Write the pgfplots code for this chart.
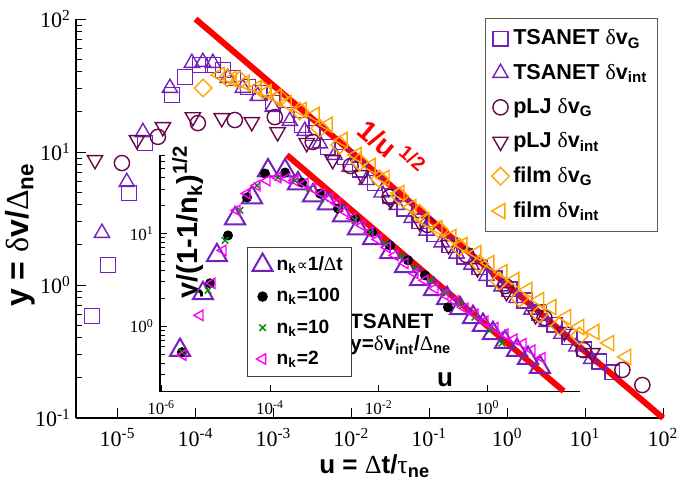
\documentclass[border=0pt]{standalone}
\usepackage{fontspec}
\setmainfont{Liberation Sans}
\newfontfamily\serif{Liberation Serif}
\newfontfamily\dejavu{DejaVu Sans}
\usepackage{pgfplots}
\pgfplotsset{compat=1.18}
\definecolor{cviolet}{RGB}{114,33,188}
\definecolor{cmaroon}{RGB}{103,7,72}
\definecolor{corange}{RGB}{255,165,0}
\definecolor{cgreen}{RGB}{0,139,0}
\definecolor{cmagenta}{RGB}{255,0,255}
\newcommand{\tl}[1]{10\textsuperscript{#1}}
\newcommand{\gk}[1]{{\serif\mdseries #1}}
\newcommand{\legfont}{\bfseries\fontsize{10.8}{12}\selectfont}
\newcommand{\ilegfont}{\bfseries\fontsize{9.6}{11}\selectfont}
\pgfplotsset{mylegimg/.style={legend image code/.code={\draw[##1] plot coordinates {(0.2cm,0cm)};}}}
\begin{document}
\begin{tikzpicture}
\useasboundingbox (0,0) rectangle (350pt,241pt);
% ---------------- main axis ----------------
\begin{axis}[
  at={(38pt,32pt)}, anchor=south west,
  scale only axis, width=293.5pt, height=199.5pt,
  xmode=log, ymode=log,
  xmin=2.92e-6, xmax=100, ymin=0.1, ymax=100,
  clip=false,
  axis x line*=bottom, axis y line*=left,
  axis line style={-, line width=0.6pt},
  tick align=inside,
  major tick length=5pt, minor tick length=3pt,
  every tick/.style={black, line width=0.5pt},
  xtick={1e-5,1e-4,1e-3,1e-2,1e-1,1,10,100},
  xticklabels={\tl{-5},\tl{-4},\tl{-3},\tl{-2},\tl{-1},\tl{0},\tl{1},\tl{2}},
  xminorticks=false,
  ytick={0.1,1,10,100},
  yticklabels={\tl{-1},\tl{0},\tl{1},\tl{2}},
  yminorticks=true,
  minor ytick={0.2,0.3,0.4,0.5,0.6,0.7,0.8,0.9,2,3,4,5,6,7,8,9,20,30,40,50,60,70,80,90},
  xticklabel style={font=\serif\fontsize{11}{12}\selectfont, yshift=-1.5pt},
  yticklabel style={font=\serif\fontsize{11}{12}\selectfont, xshift=1pt},
  mylegimg,
  legend cell align=left,
  legend style={at={(0.6968,1.0025)}, anchor=north west, draw=black!65, line width=0.7pt,
    fill=white, font=\legfont, inner xsep=3pt, inner ysep=3.5pt, row sep=4.1pt, column sep=0pt},
]
\addplot[red, line width=3pt, forget plot] coordinates {(1e-4,100) (100,0.1)};
% TSANET dvG
\addplot[only marks, cviolet, mark=square, mark size=3.7pt, mark options={line width=0.7pt}] coordinates {
(4.69e-6,0.585) (7.51e-6,1.41) (1.40e-5,4.92) (2.24e-5,11.7) (4.97e-5,26.9) (7.30e-5,36.6)
(1.135e-4,45.1) (1.67e-4,45.1) (2.24e-4,41.4) (3.01e-4,36.0) (4.69e-4,30.8) (6.67e-4,27.8)
(9.79e-4,23.4) (1.48e-3,19.0) (2.31e-3,16.0) (3.19e-3,13.9) (4.97e-3,10.9) (8.20e-3,9.17)
(0.01276,7.38) (0.0199,5.85) (0.0310,4.69) (0.0482,3.76) (0.0751,3.01) (0.117,2.42)
(0.182,1.99) (0.283,1.64) (0.441,1.36) (0.687,1.12) (1.07,0.929) (1.67,0.764)
(2.59,0.621) (4.04,0.503) (6.29,0.407) (9.79,0.329) (15.2,0.266) (22.4,0.221)};
\addlegendentry{TSANET \gk{δ}v\textsubscript{G}}
% TSANET dvint
\addplot[only marks, cviolet, mark=triangle, mark size=4.4pt, mark options={line width=0.7pt}] coordinates {
(6.29e-6,2.46) (1.31e-5,5.94) (2.11e-5,14.1) (4.69e-5,30.3) (8.97e-5,46.7) (1.24e-4,47.5)
(1.67e-4,46.7) (2.59e-4,36.0) (4.04e-4,30.3) (6.29e-4,26.4) (9.79e-4,21.8) (1.62e-3,17.1)
(2.52e-3,14.4) (3.93e-3,11.6) (6.11e-3,9.49) (9.51e-3,7.71) (0.0157,6.15) (0.0244,4.95)
(0.0381,4.00) (0.0593,3.19) (0.0923,2.56) (0.144,2.09) (0.224,1.72) (0.348,1.42)
(0.543,1.17) (0.845,0.976) (1.32,0.798) (2.05,0.652) (3.19,0.527) (4.97,0.429)
(7.73,0.344) (12.0,0.278)};
\addlegendentry{TSANET \gk{δ}v\textsubscript{int}}
% pLJ dvG
\addplot[only marks, cmaroon, mark=o, mark size=3.8pt, mark options={line width=0.7pt}] coordinates {
(1.135e-5,8.26) (3.29e-5,13.0) (1.07e-4,16.5) (3.19e-4,17.4) (1.04e-3,18.3) (3.19e-3,11.9)
(9.79e-3,7.85) (0.0310,4.59) (0.0951,2.83) (0.301,1.68) (0.951,0.983) (3.01,0.565)
(9.51,0.324) (30.1,0.230) (54.3,0.177)};
\addlegendentry{pLJ \gk{δ}v\textsubscript{G}}
% pLJ dvint
\addplot[only marks, cmaroon, mark=triangle, mark size=4.4pt, mark options={rotate=180, line width=0.7pt}] coordinates {
(5.12e-6,8.71) (1.77e-5,12.3) (3.81e-5,15.4) (9.23e-5,18.3) (2.17e-4,18.0) (5.27e-4,16.8)
(1.13e-3,14.1) (2.67e-3,11.7) (5.75e-3,8.71) (0.01355,6.71) (0.0319,4.35) (0.0751,2.98)
(0.177,2.00) (0.416,1.34) (0.980,0.886) (2.31,0.594) (5.43,0.444) (12.4,0.308)};
\addlegendentry{pLJ \gk{δ}v\textsubscript{int}}
% film dvG
\addplot[only marks, corange, mark=square, mark size=3.1pt, mark options={rotate=45, line width=0.7pt}] coordinates {
(1.25e-4,30.3) (2.54e-4,36.0) (3.70e-4,34.8) (7.29e-4,29.2) (1.21e-3,25.5) (2.17e-3,20.3)
(3.93e-3,15.1) (7.08e-3,11.3) (0.01276,8.41) (0.0231,6.27) (0.0416,4.67) (0.0751,3.47)
(0.1355,2.59) (0.244,1.93) (0.441,1.44) (0.796,1.07) (1.44,0.798) (2.59,0.605)
(4.68,0.492) (8.45,0.414)};
\addlegendentry{film \gk{δ}v\textsubscript{G}}
% film dvint
\addplot[only marks, corange, mark=triangle, mark size=4.4pt, mark options={rotate=90, line width=0.7pt}] coordinates {
(2.05e-4,37.9) (2.92e-4,35.4) (4.28e-4,33.0) (6.11e-4,30.3) (8.20e-4,28.2) (1.10e-3,25.9)
(1.48e-3,23.3) (2.31e-3,20.7) (3.38e-3,19.0) (4.97e-3,16.0) (7.73e-3,12.3) (0.0117,9.49)
(0.0177,7.85) (0.0267,6.38) (0.0416,4.92) (0.0593,3.86) (0.0871,3.08) (0.128,2.68)
(0.193,2.30) (0.267,2.00) (0.404,1.74) (0.593,1.46) (0.871,1.25) (1.24,1.09)
(1.82,0.917) (2.59,0.771) (3.70,0.684) (5.75,0.574) (8.45,0.483) (13.2,0.444)
(20.5,0.366) (33.8,0.288)};
\addlegendentry{film \gk{δ}v\textsubscript{int}}
% labels
\node[font=\bfseries\fontsize{13}{13}\selectfont] at (axis description cs:0.509,-0.12) {u = \gk{Δ}t/\gk{τ}\textsubscript{ne}};
\node[font=\bfseries\fontsize{16}{16}\selectfont, rotate=90] at (axis description cs:-0.0954,0.4586) {y = \gk{δ}v/\gk{Δ}\textsubscript{ne}};
\node[font=\bfseries\fontsize{14}{14}\selectfont, text=red, rotate=-40] at (axis description cs:0.538,0.677) {1/u\hspace{0.2em}\textsuperscript{1/2}};
\end{axis}
% ---------------- inset axis ----------------
\begin{axis}[
  at={(80pt,45.15pt)}, anchor=south west,
  scale only axis, width=210pt, height=118.35pt,
  xmode=log, ymode=log,
  xmin=9.5e-7, xmax=50, ymin=0.197, ymax=70,
  clip=false,
  axis x line*=bottom, axis y line*=left,
  axis line style={-, line width=0.6pt},
  tick align=inside,
  major tick length=3.5pt, minor tick length=2.3pt,
  every tick/.style={black, line width=0.5pt},
  xtick={1e-6,1e-4,1e-2,1},
  xticklabels={\tl{-6},\tl{-4},\tl{-2},\tl{0}},
  xminorticks=false,
  ytick={1,10},
  yticklabels={\tl{0},\tl{1}},
  yminorticks=true,
  minor ytick={0.2,0.3,0.4,0.5,0.6,0.7,0.8,0.9,2,3,4,5,6,7,8,9,20,30,40,50,60,70},
  xticklabel style={font=\serif\fontsize{8.5}{9}\selectfont, yshift=-1pt},
  yticklabel style={font=\serif\fontsize{8.5}{9}\selectfont, xshift=0.5pt},
  mylegimg,
  legend cell align=left,
  legend style={at={(0.207,0.611)}, anchor=north west, draw=black!75, line width=0.6pt,
    fill=white, font=\ilegfont, inner xsep=2.5pt, inner ysep=2.5pt, row sep=3.4pt, column sep=0pt},
]
\addplot[red, line width=3pt, forget plot] coordinates {(2.04e-4,70) (25,0.2)};
\addplot[only marks, cviolet, mark=triangle, mark size=5.8pt, mark options={line width=1pt}] coordinates {
(2.22e-6,0.552) (5.86e-6,2.26) (1.06e-5,5.80) (2.28e-5,14.5) (4.67e-5,24.4) (9.2e-5,47.6)
(1.89e-4,47.6) (3.27e-4,34.5) (6.17e-4,25.6) (1.16e-3,21.0) (2.20e-3,15.6) (4.15e-3,11.3)
(7.82e-3,8.84) (0.0161,6.25) (0.0303,4.42) (0.0571,3.20) (0.1035,2.50) (0.180,2.00)
(0.311,1.56) (0.540,1.25) (0.822,1.03) (1.256,0.841) (2.09,0.673) (3.47,0.552)
(5.53,0.453) (9.18,0.362)};
\addlegendentry{n\textsubscript{k}{\dejavu\mdseries\fontsize{7.8}{8}\selectfont ∝}1/\gk{Δ}t}
\addplot[only marks, black, mark=*, mark size=2.3pt] coordinates {
(2.41e-6,0.525) (7.89e-6,2.90) (1.69e-5,9.51) (3.78e-5,24.4) (8.09e-5,44.2) (1.89e-4,45.3)
(3.87e-4,35.3) (8.30e-4,26.9) (1.78e-3,18.6) (3.65e-3,14.5) (7.50e-3,10.3) (0.0161,7.43)
(0.0344,5.13) (0.0706,3.54) (0.187,1.60)};
\addlegendentry{n\textsubscript{k}=100}
\addplot[only marks, cgreen, mark=x, mark size=2.3pt, mark options={line width=0.7pt}] coordinates {
(2.41e-6,0.525) (7.25e-6,2.44) (1.49e-5,8.41) (2.81e-5,17.7) (5.77e-5,32.8) (1.40e-4,40.0)
(2.88e-4,37.1) (5.43e-4,30.5) (1.03e-3,23.8) (1.94e-3,18.6) (3.65e-3,13.8) (6.89e-3,10.3)
(0.0130,7.80) (0.0245,5.80) (0.0462,4.21) (0.0873,3.12) (0.165,2.32) (0.311,1.72)
(0.586,1.25) (1.106,0.906) (1.84,0.656)};
\addlegendentry{n\textsubscript{k}=10}
\addplot[only marks, cmagenta, mark=triangle, mark size=3pt, mark options={rotate=90, line width=0.7pt}] coordinates {
(2.52e-6,0.488) (5.16e-6,1.31) (8.59e-6,2.90) (1.37e-5,6.57) (2.47e-5,17.7) (3.78e-5,26.9)
(5.77e-5,32.8) (8.81e-5,37.1) (1.40e-4,40.0) (2.05e-4,39.0) (2.88e-4,37.1) (4.40e-4,34.5)
(6.17e-4,30.5) (9.04e-4,26.9) (1.27e-3,23.8) (1.71e-3,21.0) (2.39e-3,17.2) (3.36e-3,14.5)
(4.91e-3,12.2) (6.89e-3,10.3) (9.66e-3,8.62) (0.0142,7.07) (0.0199,5.80) (0.0303,4.76)
(0.0462,3.71) (0.0706,3.12) (0.108,2.56) (0.165,2.18) (0.252,1.86) (0.385,1.56)
(0.586,1.35) (0.895,1.13) (1.367,0.964) (2.09,0.820) (3.06,0.725) (4.48,0.648)
(6.55,0.552) (10.0,0.456)};
\addlegendentry{n\textsubscript{k}=2}
\node[anchor=north west, align=left, inner sep=0pt, font=\bfseries\fontsize{10.4}{11}\selectfont] at (axis description cs:0.452,0.33) {TSANET\\y=\gk{δ}v\textsubscript{int}/\gk{Δ}\textsubscript{ne}};
\node[font=\bfseries\fontsize{13}{13}\selectfont] at (axis description cs:0.679,0.049) {u};
\node[font=\bfseries\fontsize{14.5}{14.5}\selectfont, rotate=90] at (axis description cs:0.066,0.717) {y/(1-1/n\textsubscript{k})\textsuperscript{1/2}};
\end{axis}
\end{tikzpicture}
\end{document}
